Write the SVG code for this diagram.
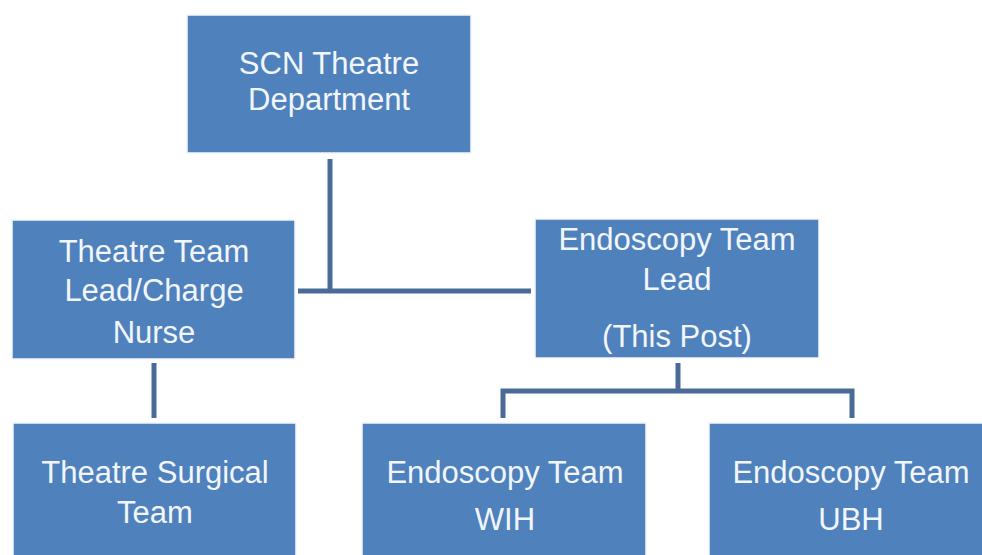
<svg xmlns="http://www.w3.org/2000/svg" width="982" height="555" viewBox="0 0 982 555">
<style>
.box{fill:#4F81BD;stroke:#F4F7FB;stroke-width:1.5}
.t{font-family:"Liberation Sans",Arial,sans-serif;font-size:31px;fill:#F2F6FB;text-anchor:middle}
.c{stroke:#4A6A98;stroke-width:5;fill:none;stroke-linecap:butt}
</style>
<rect width="982" height="555" fill="#FFFFFF"/>
<g id="connectors">
<path class="c" d="M330 159V291"/>
<path class="c" d="M298 291H531"/>
<path class="c" d="M154 363V418"/>
<path class="c" d="M678 363V391"/>
<path class="c" d="M503 418V391H852V418"/>
</g>
<g id="scn">
<rect class="box" x="187" y="15" width="284" height="138"/>
<text class="t" x="329" y="74">SCN Theatre</text>
<text class="t" x="329" y="110">Department</text>
</g>
<g id="theatre-lead">
<rect class="box" x="12" y="220" width="283" height="139"/>
<text class="t" x="154" y="262">Theatre Team</text>
<text class="t" x="154" y="301">Lead/Charge</text>
<text class="t" x="154" y="343">Nurse</text>
</g>
<g id="endo-lead">
<rect class="box" x="535" y="219" width="284" height="139"/>
<text class="t" x="677" y="250">Endoscopy Team</text>
<text class="t" x="677" y="290">Lead</text>
<text class="t" x="677" y="347">(This Post)</text>
</g>
<g id="theatre-surgical">
<rect class="box" x="13" y="423" width="283" height="140"/>
<text class="t" x="155" y="483">Theatre Surgical</text>
<text class="t" x="155" y="523">Team</text>
</g>
<g id="endo-wih">
<rect class="box" x="362" y="423" width="284" height="140"/>
<text class="t" x="505" y="483">Endoscopy Team</text>
<text class="t" x="505" y="530">WIH</text>
</g>
<g id="endo-ubh">
<rect class="box" x="709" y="423" width="284" height="140"/>
<text class="t" x="851" y="483">Endoscopy Team</text>
<text class="t" x="851" y="530">UBH</text>
</g>
</svg>
